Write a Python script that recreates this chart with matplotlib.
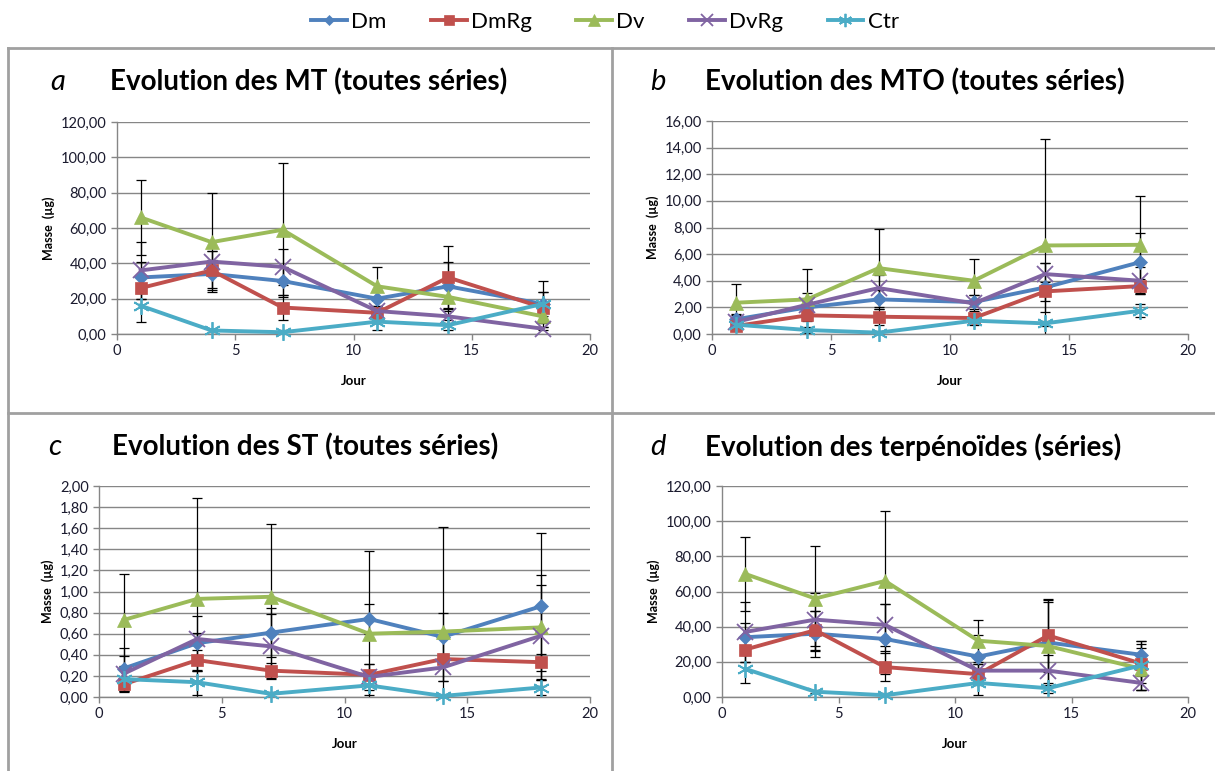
import matplotlib
matplotlib.use("Agg")
import matplotlib.pyplot as plt
from matplotlib.lines import Line2D
from matplotlib.ticker import FuncFormatter

plt.rcParams['font.family'] = ['Lato', 'DejaVu Sans']

jours = [1, 4, 7, 11, 14, 18]
series = ["Dm", "DmRg", "Dv", "DvRg", "Ctr"]
colors = {"Dm": "#4F81BD", "DmRg": "#C0504D", "Dv": "#9BBB59", "DvRg": "#8064A2", "Ctr": "#4BACC6"}
markers = {"Dm": "D", "DmRg": "s", "Dv": "^", "DvRg": "x", "Ctr": (6, 2, 0)}
msizes = {"Dm": 7, "DmRg": 9, "Dv": 10, "DvRg": 11, "Ctr": 12}

# panel a - MT
mt = {"Dm": [32, 34, 30, 20, 27, 17],
      "DmRg": [26, 36, 15, 12, 32, 15],
      "Dv": [66, 52, 59, 27, 21, 10],
      "DvRg": [36, 41, 38, 13, 10, 3],
      "Ctr": [16, 2, 1, 7, 5, 17]}
mt_err = {"Dm": [9, 8, 8, 5, 14, 7],
          "DmRg": [6, 11, 7, 4, 18, 9],
          "Dv": [21, 28, 38, 11, 6, 4],
          "DvRg": [16, 6, 10, 6, 4, 1],
          "Ctr": [9, 1, 1, 5, 3, 13]}

# panel b - MTO
mto = {"Dm": [1.1, 2.0, 2.6, 2.4, 3.5, 5.4],
       "DmRg": [0.6, 1.4, 1.3, 1.2, 3.2, 3.6],
       "Dv": [2.35, 2.6, 4.95, 4.0, 6.65, 6.7],
       "DvRg": [0.9, 2.2, 3.45, 2.3, 4.5, 4.0],
       "Ctr": [0.7, 0.3, 0.1, 1.0, 0.8, 1.75]}
mto_err = {"Dm": [0.4, 0.5, 0.7, 0.5, 1.85, 2.2],
           "DmRg": [0.2, 0.4, 0.6, 0.3, 0.7, 0.5],
           "Dv": [1.4, 2.25, 2.95, 1.6, 8.0, 3.7],
           "DvRg": [0.5, 0.9, 0.95, 0.6, 0.85, 1.0],
           "Ctr": [0.2, 0.2, 0.1, 0.3, 0.2, 0.5]}

# panel c - ST
st = {"Dm": [0.27, 0.51, 0.61, 0.74, 0.57, 0.86],
      "DmRg": [0.12, 0.35, 0.25, 0.21, 0.36, 0.33],
      "Dv": [0.73, 0.93, 0.95, 0.60, 0.62, 0.66],
      "DvRg": [0.22, 0.55, 0.48, 0.19, 0.28, 0.58],
      "Ctr": [0.17, 0.14, 0.03, 0.11, 0.01, 0.09]}
st_err = {"Dm": [0.19, 0.26, 0.23, 0.14, 0.23, 0.69],
          "DmRg": [0.06, 0.10, 0.07, 0.10, 0.21, 0.08],
          "Dv": [0.44, 0.96, 0.69, 0.78, 0.99, 0.50],
          "DvRg": [0.17, 0.06, 0.31, 0.12, 0.13, 0.48],
          "Ctr": [0.11, 0.12, 0.02, 0.09, 0.01, 0.07]}

# panel d - terpenoides
terp = {"Dm": [34, 36, 33, 23, 31, 24],
        "DmRg": [27, 38, 17, 13, 35, 19],
        "Dv": [70, 56, 66, 32, 29, 16],
        "DvRg": [37, 44, 41, 15, 15, 8],
        "Ctr": [16, 3, 1, 8, 5, 18]}
terp_err = {"Dm": [8, 13, 20, 12, 24, 8],
            "DmRg": [7, 11, 8, 6, 21, 11],
            "Dv": [21, 30, 40, 12, 25, 12],
            "DvRg": [17, 15, 12, 4, 9, 4],
            "Ctr": [8, 1, 1, 7, 3, 14]}

panels = [
    ("a", "Evolution des MT (toutes séries)", mt, mt_err, 120, 20,
     [117, 122, 590, 334], (50, 110, 82)),
    ("b", "Evolution des MTO (toutes séries)", mto, mto_err, 16, 2,
     [712, 121, 1188, 334], (650, 705, 82)),
    ("c", "Evolution des ST (toutes séries)", st, st_err, 2, 0.2,
     [99, 486, 590, 697], (48, 112, 447)),
    ("d", "Evolution des terpénoïdes (séries)", terp, terp_err, 120, 20,
     [722, 486, 1188, 697], (650, 705, 447)),
]

W, H = 1215, 771
fig = plt.figure(figsize=(W / 100, H / 100), dpi=100)

grey = "#868686"
comma = FuncFormatter(lambda v, p: f"{v:.2f}".replace(".", ","))

for letter, title, data, err, ymax, ystep, box, tpos in panels:
    x0, y0, x1, y1 = box
    ax = fig.add_axes([x0 / W, 1 - y1 / H, (x1 - x0) / W, (y1 - y0) / H])
    for s in series:
        ax.errorbar(jours, data[s], yerr=err[s], fmt="none", ecolor="black",
                    elinewidth=0.9, capsize=3.5, capthick=0.9, zorder=2)
    for s in series:
        ax.plot(jours, data[s], color=colors[s], lw=2.8, marker=markers[s],
                ms=msizes[s], mew=1.3 if s in ("DvRg", "Ctr") else 0.5,
                mec=colors[s], zorder=3, clip_on=False)
    ax.set_xlim(0, 20)
    ax.set_ylim(0, ymax)
    ax.set_xticks([0, 5, 10, 15, 20])
    n = int(round(ymax / ystep))
    ax.set_yticks([i * ystep for i in range(n + 1)])
    ax.yaxis.set_major_formatter(comma)
    ax.grid(axis="y", color=grey, lw=1)
    ax.set_axisbelow(True)
    for sp in ("top", "right"):
        ax.spines[sp].set_visible(False)
    for sp in ("left", "bottom"):
        ax.spines[sp].set_color(grey)
        ax.spines[sp].set_linewidth(1)
    ax.tick_params(colors=grey, length=4, width=1, labelcolor="#1a1a2e", labelsize=10.5)
    ax.set_xlabel("Jour", fontsize=9.5, fontweight="bold", labelpad=12)
    ax.set_ylabel("Masse  (µg)", fontsize=9, fontweight="bold", labelpad=4)

    lx, tx, ty = tpos
    fig.text(lx / W, 1 - ty / H, letter, fontsize=21, style="italic",
             ha="left", va="center")
    fig.text(tx / W, 1 - ty / H, title, fontsize=20, fontweight="bold",
             ha="left", va="center")

# panel borders
bc = "#A0A0A0"
fig.add_artist(Line2D([8 / W, 1], [1 - 48 / H] * 2, color=bc, lw=2, transform=fig.transFigure))
fig.add_artist(Line2D([8 / W, 1], [1 - 413 / H] * 2, color=bc, lw=2, transform=fig.transFigure))
fig.add_artist(Line2D([8 / W] * 2, [0, 1 - 48 / H], color=bc, lw=2, transform=fig.transFigure))
fig.add_artist(Line2D([612 / W] * 2, [0, 1 - 48 / H], color=bc, lw=2, transform=fig.transFigure))

handles = [Line2D([], [], color=colors[s], lw=2.8, marker=markers[s], ms=msizes[s] * 0.8,
                  mew=1.3 if s in ("DvRg", "Ctr") else 0.5, mec=colors[s]) for s in series]
fig.legend(handles, series, loc="center", bbox_to_anchor=(605 / W, 1 - 22 / H), ncol=5,
           frameon=False, fontsize=16, handlelength=1.6, handletextpad=0.2, columnspacing=2.0)

fig.savefig("out.png", dpi=100)
